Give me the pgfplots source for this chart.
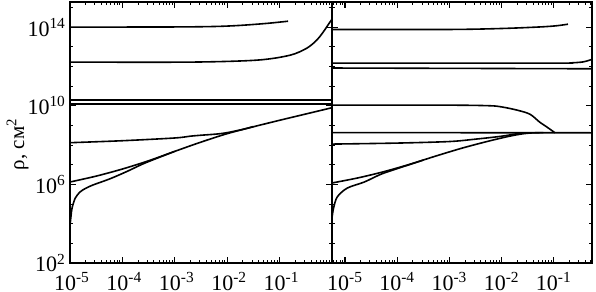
\documentclass[border=0pt]{standalone}
\usepackage{fontspec}
\setmainfont{Liberation Serif}
\usepackage{pgfplots}
\pgfplotsset{compat=1.18}
\begin{document}
\begin{tikzpicture}
% ---------------- left panel ----------------
\begin{axis}[xmode=log, ymode=log, scale only axis, height=130.5pt, width=131pt,
  at={(0pt,0pt)}, anchor=south west,
  xmin=1e-5, xmax=1, ymin=1e2, ymax=1.9e15,
  ytick={1e2,1e6,1e10,1e14},
  minor ytick={1e3,1e4,1e5,1e7,1e8,1e9,1e11,1e12,1e13,1e15},
  yticklabels={\raisebox{-3pt}{10\textsuperscript{2}}\hspace{6pt},10\textsuperscript{6},10\textsuperscript{10},10\textsuperscript{14}},
  xtick={1e-5,1e-4,1e-3,1e-2,1e-1},
  xticklabels={10\textsuperscript{-5},10\textsuperscript{-4},10\textsuperscript{-3},10\textsuperscript{-2},10\textsuperscript{-1}},
  minor xtick={2e-5,3e-5,4e-5,5e-5,6e-5,7e-5,8e-5,9e-5,2e-4,3e-4,4e-4,5e-4,6e-4,7e-4,8e-4,9e-4,2e-3,3e-3,4e-3,5e-3,6e-3,7e-3,8e-3,9e-3,2e-2,3e-2,4e-2,5e-2,6e-2,7e-2,8e-2,9e-2,0.2,0.3,0.4,0.5,0.6,0.7,0.8,0.9},
  tick align=inside, major tick length=3pt, minor tick length=1.5pt,
  axis line style={line width=0.7pt},
  major tick style={black, line width=0.6pt},
  minor tick style={black, line width=0.5pt},
  tick label style={font=\fontsize{11}{12}\selectfont},
  yticklabel style={xshift=1.5pt},
  xticklabel style={xshift=1pt, yshift=-1pt},
  ylabel={ρ, см\textsuperscript{2}},
  ylabel style={at={(axis description cs:-0.2,0.455)}, anchor=center, font=\fontsize{10.5}{12}\selectfont},
]
\addplot[black, line width=0.8pt, smooth] coordinates {(1e-5,1e14) (1e-3,1.02e14) (6e-3,1.08e14) (1.74e-2,1.22e14) (5.75e-2,1.55e14) (0.145,2e14)};
\addplot[black, line width=0.8pt, smooth] coordinates {(1e-5,1.66e12) (2e-3,1.66e12) (3.7e-2,2.09e12) (0.158,3.72e12) (0.331,8.5e12) (0.513,2.19e13) (0.676,5.5e13) (0.912,1.78e14) (1,2.5e14)};
\addplot[black, line width=0.8pt] coordinates {(1e-5,1.9e10) (1,1.9e10)};
\addplot[black, line width=0.8pt] coordinates {(1e-5,1.2e10) (1,1.2e10)};
\addplot[black, line width=0.8pt, smooth] coordinates {(1e-5,1.318e8) (1e-4,1.66e8) (1e-3,2.29e8) (1.95e-3,2.82e8) (3.162e-3,3.16e8) (6.31e-3,3.63e8) (1e-2,4.27e8) (2e-2,6.31e8) (3.162e-2,8.71e8)};
\addplot[black, line width=0.8pt, smooth] coordinates {(1e-5,1.318e6) (3.162e-5,2.63e6) (1e-4,6.03e6) (3.162e-4,1.585e7) (1e-3,4.79e7) (3.162e-3,1.413e8) (1e-2,3.8e8) (3.162e-2,8.51e8) (0.1,1.82e9) (0.3162,3.8e9) (1,7.94e9)};
\addplot[black, line width=0.8pt, smooth] coordinates {(1e-5,7.94e3) (1.047e-5,2.51e4) (1.096e-5,6.31e4) (1.259e-5,2e5) (1.549e-5,4.07e5) (1.995e-5,6.31e5) (2.754e-5,9.33e5) (5.754e-5,1.905e6) (1.23e-4,4.57e6) (2.512e-4,1.122e7) (5.012e-4,2.344e7) (1e-3,4.79e7)};
\end{axis}
% ---------------- right panel ----------------
\begin{axis}[xmode=log, ymode=log, scale only axis, height=130.5pt, width=130pt,
  at={(131pt,0pt)}, anchor=south west,
  xmin=5.62e-6, xmax=0.537, ymin=1e2, ymax=1.9e15,
  ytick={1e2,1e6,1e10,1e14},
  minor ytick={1e3,1e4,1e5,1e7,1e8,1e9,1e11,1e12,1e13,1e15},
  yticklabels={},
  xtick={1e-5,1e-4,1e-3,1e-2,1e-1},
  xticklabels={10\textsuperscript{-5},10\textsuperscript{-4},10\textsuperscript{-3},10\textsuperscript{-2},10\textsuperscript{-1}},
  minor xtick={6e-6,7e-6,8e-6,9e-6,2e-5,3e-5,4e-5,5e-5,6e-5,7e-5,8e-5,9e-5,2e-4,3e-4,4e-4,5e-4,6e-4,7e-4,8e-4,9e-4,2e-3,3e-3,4e-3,5e-3,6e-3,7e-3,8e-3,9e-3,2e-2,3e-2,4e-2,5e-2,6e-2,7e-2,8e-2,9e-2,0.2,0.3,0.4,0.5},
  tick align=inside, major tick length=3pt, minor tick length=1.5pt,
  axis line style={line width=0.7pt},
  major tick style={black, line width=0.6pt},
  minor tick style={black, line width=0.5pt},
  tick label style={font=\fontsize{11}{12}\selectfont},
  xticklabel style={yshift=-1pt},
]
\addplot[black, line width=0.8pt, smooth] coordinates {(5.62e-6,7.59e13) (1e-3,7.59e13) (1e-2,8.51e13) (5.37e-2,1.02e14) (0.112,1.17e14) (0.186,1.41e14)};
\addplot[black, line width=0.8pt, smooth] coordinates {(5.62e-6,1.48e12) (0.1,1.48e12) (0.204,1.51e12) (0.363,1.7e12) (0.537,2.29e12)};
\addplot[black, line width=0.8pt] coordinates {(5.62e-6,8.3e11) (0.537,7.6e11)};
\addplot[black, line width=0.8pt, smooth] coordinates {(5.62e-6,1.07e10) (1e-3,1.07e10) (5.89e-3,1.0e10) (1e-2,8.71e9) (1.95e-2,6.03e9) (3.47e-2,3.72e9) (5.37e-2,1.45e9) (7.41e-2,8.13e8) (0.105,4.2e8)};
\addplot[black, line width=0.8pt] coordinates {(5.62e-6,4.3e8) (0.537,4.2e8)};
\addplot[black, line width=0.8pt, smooth] coordinates {(5.62e-6,1.12e8) (1e-4,1.26e8) (1e-3,1.51e8) (3.16e-3,2e8) (1e-2,2.82e8) (2.51e-2,4.2e8)};
\addplot[black, line width=0.8pt, smooth] coordinates {(5.62e-6,1.175e6) (1.778e-5,2.14e6) (5.62e-5,4.47e6) (1.778e-4,1.07e7) (5.62e-4,2.82e7) (1.778e-3,7.08e7) (5.62e-3,1.585e8) (1.413e-2,2.82e8) (2.512e-2,3.72e8) (3.98e-2,4.17e8) (6.31e-2,4.27e8)};
\addplot[black, line width=0.8pt, smooth] coordinates {(5.62e-6,2e4) (6.03e-6,6.31e4) (7.08e-6,2.29e5) (1.1e-5,6.46e5) (2.34e-5,1.32e6) (4.9e-5,3.31e6) (1e-4,6.31e6) (1.778e-4,1.047e7) (3.162e-4,1.738e7)};
\end{axis}
\pgfresetboundingbox
\path[use as bounding box] (-35pt,-14.5pt) rectangle (263pt,131.5pt);
\end{tikzpicture}
\end{document}
